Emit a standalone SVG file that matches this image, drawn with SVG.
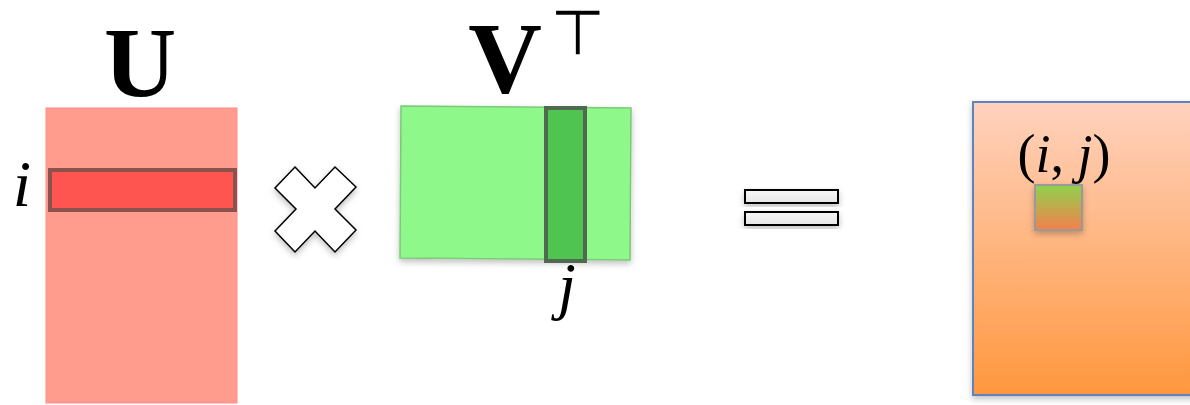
<svg xmlns="http://www.w3.org/2000/svg" width="1190" height="405" viewBox="0 0 1190 405">
<style>
.lbl{font-family:"Liberation Serif","DejaVu Serif",serif;fill:#000}
.bold{font-weight:bold}
.it{font-style:italic}
</style>
<defs>
<filter id="sh" x="-20%" y="-20%" width="140%" height="150%">
<feDropShadow dx="0" dy="3" stdDeviation="3" flood-color="#000" flood-opacity="0.25"/>
</filter>
<linearGradient id="gRes" x1="0" y1="0" x2="0" y2="1">
<stop offset="0" stop-color="#FFD2BE"/>
<stop offset="1" stop-color="#FF973E"/>
</linearGradient>
<linearGradient id="gCell" x1="0" y1="0" x2="0" y2="1">
<stop offset="0" stop-color="#8FD24E"/>
<stop offset="1" stop-color="#F47F4E"/>
</linearGradient>
<linearGradient id="gEq" x1="0" y1="0" x2="0" y2="1">
<stop offset="0" stop-color="#f7f7f7"/>
<stop offset="1" stop-color="#e6e6e6"/>
</linearGradient>
</defs>

<g id="U">
<rect x="46" y="108" width="191" height="295" fill="#FF9C8E" stroke="#FF8C8C" stroke-width="1"/>
<text class="lbl bold" x="140" y="96" font-size="100" text-anchor="middle">U</text>
</g>

<g id="U-row">
<rect x="50" y="170" width="185" height="40" fill="#FF5550" stroke="#8C524E" stroke-width="4"/>
<text class="lbl it" x="22" y="206" font-size="66" text-anchor="middle">i</text>
</g>

<g id="times">
<polygon points="295,167 315,188 335,167 356,187 335,209 356,230 335,252 315,231 295,252 275,231 296,209 275,188" fill="#fff" stroke="#000" stroke-width="1.5" filter="url(#sh)"/>
</g>

<g id="VT">
<polygon points="401,106 631,108 630,260 400,258" fill="#8EF98A" stroke="#7CC978" stroke-width="1.5" filter="url(#sh)"/>
<text class="lbl bold" x="505" y="93" font-size="102" text-anchor="middle">V</text>
<text x="578" y="54" font-family="DejaVu Sans,sans-serif" font-size="62" text-anchor="middle" fill="#000">⊤</text>
</g>

<g id="VT-col">
<rect x="546" y="108" width="39" height="153" fill="#50C450" stroke="#4F6A50" stroke-width="4"/>
<text class="lbl it" x="567" y="307" font-size="64" text-anchor="middle">j</text>
</g>

<g id="equals">
<rect x="745" y="190" width="93" height="13" fill="url(#gEq)" stroke="#000" stroke-width="2" filter="url(#sh)"/>
<rect x="745" y="212" width="93" height="13" fill="url(#gEq)" stroke="#000" stroke-width="2" filter="url(#sh)"/>
</g>

<g id="result">
<rect x="973" y="102" width="230" height="293" fill="url(#gRes)" stroke="#5B85C0" stroke-width="2" filter="url(#sh)"/>
</g>

<g id="cell">
<rect x="1035" y="185" width="47" height="45" fill="url(#gCell)" stroke="#9A9A9A" stroke-width="2" filter="url(#sh)"/>
<text class="lbl" x="1064" y="172" font-size="54" text-anchor="middle">(<tspan class="it">i</tspan>, <tspan class="it">j</tspan>)</text>
</g>

<g id="connectors"></g>
</svg>
